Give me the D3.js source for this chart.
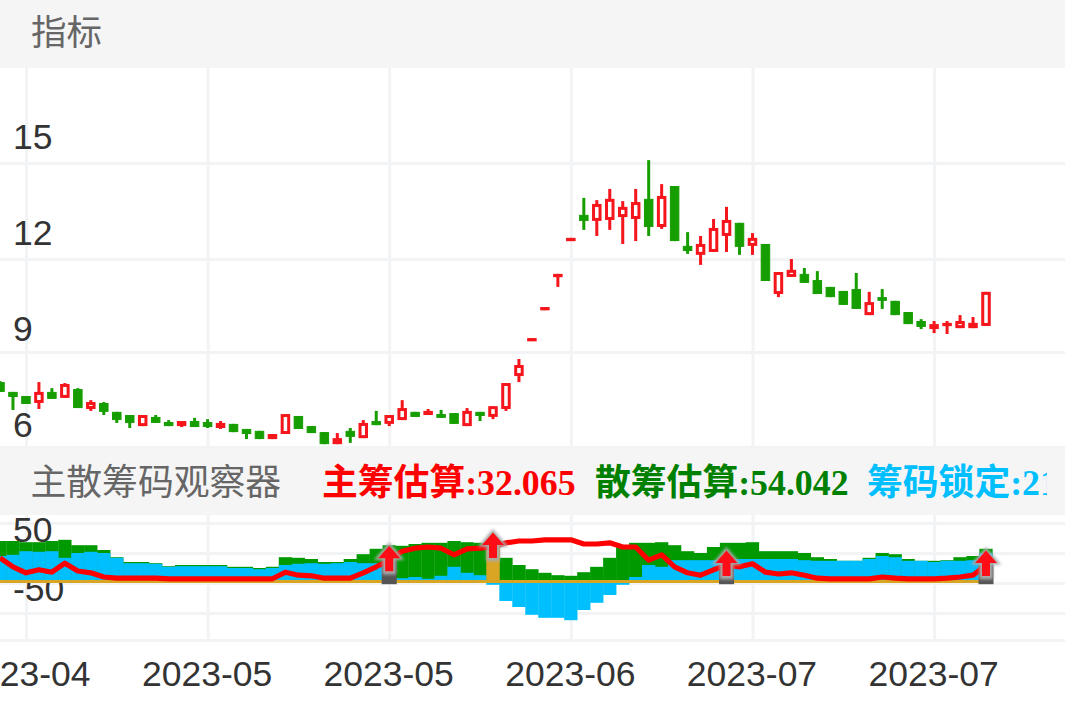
<!DOCTYPE html>
<html><head><meta charset="utf-8">
<style>html,body{margin:0;padding:0;background:#fff;overflow:hidden}svg{display:block}</style>
<script src="https://cdn.jsdelivr.net/npm/d3@7"></script></head><body><svg id="c" width="1065" height="708"></svg>
<script>
const tickLabels = ["2023-04","2023-05","2023-05","2023-06","2023-07","2023-07"];
const tickIdx = [2,16,30,44,58,72];
const open = [8.05,7.74,7.61,7.39,7.74,7.55,7.83,7.20,7.39,7.11,7.01,6.66,6.95,6.79,6.66,6.82,6.79,6.60,6.73,6.57,6.51,6.25,6.41,6.98,6.66,6.47,6.09,6.51,6.28,6.82,6.73,6.85,7.11,7.01,7.04,7.07,6.66,7.11,6.95,7.20,8.24,9.39,10.35,11.45,12.59,13.38,13.19,13.22,13.31,13.25,13.88,13.00,14.28,12.41,12.13,12.22,12.72,13.13,12.41,12.47,10.87,11.42,11.52,11.32,11.10,10.97,11.03,10.19,10.77,10.65,10.29,10.00,9.74,9.84,9.77,9.77,9.84];
const close = [7.74,7.58,7.36,7.74,7.52,7.99,7.23,7.42,7.11,6.85,6.76,7.01,6.76,6.66,6.82,6.63,6.63,6.76,6.47,6.41,6.25,6.41,7.04,6.57,6.44,6.09,6.28,6.32,6.76,6.69,7.01,7.23,6.95,7.14,6.92,6.73,7.14,6.98,7.29,8.02,8.59,9.45,10.45,11.52,12.66,13.19,13.72,13.88,13.63,13.78,13.00,13.97,12.56,12.25,12.47,12.97,13.22,12.38,12.66,11.29,11.58,11.65,11.23,10.87,10.77,10.52,10.39,10.61,10.65,10.19,9.90,9.81,9.90,9.94,10.00,9.94,10.94];
const high = [8.08,7.74,7.61,8.05,7.86,8.02,7.86,7.48,7.42,7.11,7.01,7.01,7.01,6.85,6.82,6.92,6.88,6.82,6.73,6.57,6.51,6.41,7.04,6.98,6.66,6.47,6.44,6.60,6.85,7.14,7.01,7.48,7.11,7.20,7.17,7.07,7.23,7.11,7.29,8.02,8.78,9.45,10.45,11.52,12.66,13.91,13.84,14.19,13.81,14.19,15.09,14.34,14.28,12.84,12.72,13.25,13.63,13.13,12.81,12.47,11.58,12.00,11.71,11.61,11.10,10.97,11.55,10.94,11.03,10.65,10.29,10.06,10.00,10.00,10.19,10.13,10.94];
const low = [7.74,7.17,7.36,7.20,7.52,7.55,7.23,7.14,7.01,6.76,6.60,6.66,6.76,6.66,6.63,6.63,6.60,6.57,6.47,6.25,6.25,6.25,6.41,6.57,6.44,6.09,6.09,6.13,6.28,6.69,6.66,6.85,6.95,7.01,6.92,6.73,6.66,6.82,6.88,7.14,8.05,9.39,10.35,11.10,12.59,12.91,12.72,12.91,12.47,12.56,12.72,12.94,12.56,12.16,11.81,12.22,12.22,12.13,12.13,11.29,10.77,11.42,11.23,10.87,10.77,10.52,10.39,10.19,10.39,10.19,9.90,9.74,9.61,9.58,9.77,9.77,9.84];
const sanChou = [70,70,68,68,70,72,63,63,55,43,35,35,33,28,30,30,30,30,27,27,25,27,43,42,40,35,35,40,48,57,63,62,65,67,67,70,68,67,67,42,30,23,17,13,12,18,27,42,60,67,67,68,63,53,50,60,67,67,68,53,53,53,50,43,40,37,37,42,50,48,40,37,37,38,43,45,57];
const suoDing = [45,47,53,52,53,42,50,52,50,42,33,33,32,27,28,28,28,28,25,25,23,25,30,32,33,32,33,35,33,33,33,8,10,7,12,27,17,13,-3,-30,-40,-53,-58,-58,-62,-45,-33,-20,-3,10,30,27,38,38,38,38,38,40,40,40,40,40,38,37,37,37,37,40,45,43,37,37,35,37,37,38,50];
const zhuChou = [42,27,17,22,18,33,20,17,10,8,8,8,8,7,7,7,7,7,7,7,7,7,18,13,12,8,8,8,17,27,38,53,58,60,58,47,57,58,60,67,70,70,72,72,72,65,65,67,60,60,38,47,27,17,13,22,30,27,32,18,15,17,13,8,7,7,7,7,10,8,7,7,7,8,10,13,30];
const goldBase = 5;
const goldSignal = [38], goldSignalValue = [60];
const graySignal = [30,56,76];
const legends = [["主筹估算:32.065","#ff0000",322],["散筹估算:54.042","#008000",595],["筹码锁定:21","#00bfff",867]];

const W=1065, gridC="#f2f3f5", up="#f5141e", down="#189e00";
const svg=d3.select("#c");
const idx=d3.range(open.length);
const x=d3.scaleLinear().domain([0,76]).range([0,986]);
const y=d3.scaleLinear().domain([6,9,12,15]).range([447,352,259,163]);
const yLab=d3.scaleLinear().domain([6,15]).range([424.5,136.5]);
const yl=d3.scaleLinear().domain([-95,100]).range([640,523]);
const ylLab=d3.scaleLinear().domain([-50,50]).range([588,529]);
const SANS='"Liberation Sans",Arial,sans-serif', CJK='"Noto Sans CJK SC",sans-serif';

svg.append("rect").attr("width",W).attr("height",68).attr("fill","#f5f5f5");
svg.append("rect").attr("y",447).attr("width",W).attr("height",68).attr("fill","#f5f5f5");
svg.append("text").attr("x",31).attr("y",45).attr("font-family",CJK).attr("font-size",35.5).attr("fill","#666").text("指标");
svg.append("text").attr("x",30.5).attr("y",495).attr("font-family",CJK).attr("font-size",35.8).attr("fill","#666").text("主散筹码观察器");
svg.append("clipPath").attr("id","lg").append("rect").attr("x",0).attr("y",447).attr("width",1047).attr("height",68);
svg.append("g").attr("clip-path","url(#lg)").selectAll("text").data(legends).join("text")
  .attr("x",d=>d[2]).attr("y",495).attr("fill",d=>d[1]).attr("font-size",35.8).attr("font-weight","bold")
  .attr("font-family",'"Liberation Serif","Noto Sans CJK SC",serif').text(d=>d[0]);

function styleGrid(g){g.select(".domain").remove();g.selectAll("line").attr("stroke",gridC).attr("stroke-width",3);g.selectAll("text").remove();}
svg.append("g").call(d3.axisRight(y).tickValues([6,9,12,15]).tickSize(W)).call(styleGrid);
svg.append("g").call(d3.axisRight(yl).tickValues([100,50,0,-50,-95]).tickSize(W)).call(styleGrid);
svg.append("g").attr("transform","translate(0,447)").call(d3.axisTop(x).tickValues(tickIdx).tickSize(379)).call(styleGrid);
svg.append("g").attr("transform","translate(0,640)").call(d3.axisTop(x).tickValues(tickIdx).tickSize(125)).call(styleGrid);

function styleLab(g){g.select(".domain").remove();g.selectAll("line").remove();
  g.selectAll("text").attr("x",13).attr("text-anchor","start").attr("dy","0.35em").attr("font-family",SANS).attr("font-size",35.5).attr("fill","#333");}
svg.append("g").call(d3.axisRight(yLab).tickValues([6,9,12,15]).tickFormat(d3.format("d"))).call(styleLab);
svg.append("g").call(d3.axisRight(ylLab).tickValues([50,-50]).tickFormat(d=>d<0?"-"+Math.abs(d):d)).call(styleLab);
svg.append("g").attr("transform","translate(-1,674)").call(d3.axisBottom(x).tickValues(tickIdx).tickFormat((d,i)=>tickLabels[i]).tickSize(0))
  .call(g=>{g.select(".domain").remove();g.selectAll("text").attr("y",0).attr("dy","0.35em").attr("font-family",SANS).attr("font-size",35.5).attr("fill","#333");});

const defs=svg.append("defs");
defs.append("filter").attr("id","soft").attr("x","-5%").attr("y","-5%").attr("width","110%").attr("height","110%")
  .append("feGaussianBlur").attr("stdDeviation",0.45);
defs.append("filter").attr("id","gl").attr("x","-50%").attr("y","-50%").attr("width","200%").attr("height","200%")
  .append("feGaussianBlur").attr("stdDeviation",1.8);

const isUp=i=>close[i]>=open[i];
const cg=svg.append("g").attr("filter","url(#soft)");
cg.selectAll("line").data(idx).join("line")
  .attr("x1",x).attr("x2",x).attr("y1",i=>y(high[i])).attr("y2",i=>y(low[i]))
  .attr("stroke",i=>isUp(i)?up:down).attr("stroke-width",3);
cg.selectAll("rect").data(idx).join("rect")
  .attr("x",i=>x(i)-(isUp(i)?3.25:4.25)).attr("width",i=>isUp(i)?6.5:8.5)
  .attr("y",i=>Math.min(y(open[i]),y(close[i]))+(isUp(i)?1.5:0.5))
  .attr("height",i=>Math.max(0.3,Math.abs(y(open[i])-y(close[i]))-(isUp(i)?3:1)))
  .attr("fill",i=>isUp(i)?"#fff":down)
  .attr("stroke",i=>isUp(i)?up:down).attr("stroke-width",i=>isUp(i)?3:1);

const bw=13.3;
const low_g=svg.append("g").attr("filter","url(#soft)");
function bars(arr,color,cond){
  low_g.append("g").selectAll("rect").data(idx.filter(i=>!cond||cond(i))).join("rect")
   .attr("x",i=>x(i)-bw/2).attr("width",bw)
   .attr("y",i=>Math.min(yl(arr[i]),yl(0))).attr("height",i=>Math.abs(yl(arr[i])-yl(0)))
   .attr("fill",color);
}
bars(sanChou,"#009900");
bars(suoDing,"#00bfff");
const goldVals=idx.map(i=>{const k=goldSignal.indexOf(i);return k>=0?goldSignalValue[k]:goldBase;});
bars(goldVals,"#daa520",i=>i<76&&!graySignal.includes(i));
low_g.append("g").selectAll("rect").data(graySignal).join("rect")
  .attr("x",i=>x(i)-7.5).attr("width",15).attr("y",i=>yl(zhuChou[i])).attr("height",i=>yl(-2)-yl(zhuChou[i])).attr("fill","#555");

svg.append("path").datum(idx).attr("fill","none").attr("stroke","#ff0000").attr("stroke-width",5.2).attr("stroke-linejoin","round")
  .attr("d",d3.line().x(i=>x(i)).y(i=>yl(zhuChou[i])));

const arrow="M0,0L12.5,14.5L5.5,14.5L5.5,29L-5.5,29L-5.5,14.5L-12.5,14.5Z";
const sig=graySignal.concat(goldSignal);
const ag=svg.append("g").selectAll("g").data(sig).join("g").attr("transform",i=>`translate(${x(i)},${yl(zhuChou[i])-16})`);
ag.append("path").attr("d",arrow).attr("fill","#aaa").attr("stroke","#aaa").attr("stroke-width",2.5).attr("filter","url(#gl)");
ag.append("path").attr("d","M0,1.5L11,14L4,14L4,27L-4,27L-4,14L-11,14Z").attr("fill","#ff0a14").attr("filter","url(#soft)");
</script></body></html>
